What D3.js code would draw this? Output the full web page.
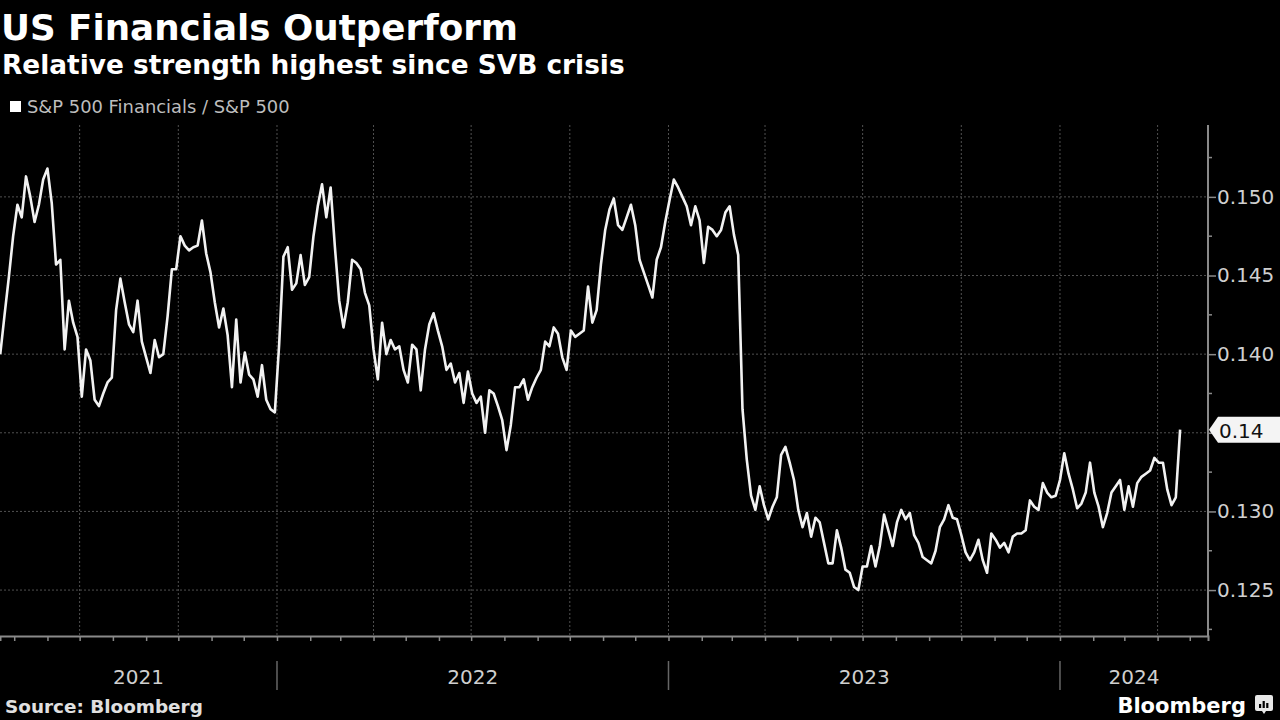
<!DOCTYPE html>
<html><head><meta charset="utf-8">
<script src="https://cdn.jsdelivr.net/npm/d3@7"></script>
<style>html,body{margin:0;padding:0;background:#000;}svg{display:block;}</style>
</head><body>
<svg id="chart" width="1280" height="720"></svg>
<script>
// ---- data ----
const title = "US Financials Outperform";
const subtitle = "Relative strength highest since SVB crisis";
const seriesName = "S&P 500 Financials / S&P 500";
const source = "Source: Bloomberg";
const startDate = "2021-04-18";
const stepDays = 4;
const values = [
0.1400,0.1425,0.1449,0.1475,0.1495,0.1487,0.1513,0.1500,0.1484,0.1495,
0.1511,0.1518,0.1496,0.1457,0.1460,0.1403,0.1434,0.1420,0.1411,0.1373,
0.1403,0.1396,0.1371,0.1367,0.1375,0.1382,0.1385,0.1428,0.1448,0.1433,
0.1419,0.1414,0.1434,0.1408,0.1398,0.1388,0.1409,0.1398,0.1400,0.1424,
0.1454,0.1454,0.1475,0.1469,0.1466,0.1468,0.1469,0.1485,0.1464,0.1452,
0.1433,0.1417,0.1429,0.1412,0.1379,0.1422,0.1382,0.1401,0.1387,0.1384,
0.1373,0.1393,0.1371,0.1365,0.1363,0.1406,0.1462,0.1468,0.1441,0.1445,
0.1463,0.1444,0.1449,0.1475,0.1494,0.1508,0.1487,0.1506,0.1468,0.1434,
0.1417,0.1433,0.1460,0.1458,0.1454,0.1439,0.1431,0.1403,0.1384,0.1420,
0.1400,0.1409,0.1403,0.1405,0.1390,0.1382,0.1406,0.1403,0.1377,0.1403,
0.1419,0.1426,0.1415,0.1405,0.1390,0.1394,0.1382,0.1388,0.1369,0.1389,
0.1375,0.1369,0.1373,0.1350,0.1377,0.1375,0.1367,0.1358,0.1339,0.1355,
0.1379,0.1379,0.1384,0.1371,0.1379,0.1385,0.1390,0.1408,0.1405,0.1417,
0.1413,0.1398,0.1390,0.1415,0.1411,0.1413,0.1415,0.1443,0.1420,0.1428,
0.1457,0.1479,0.1492,0.1499,0.1482,0.1479,0.1487,0.1495,0.1482,0.1460,
0.1452,0.1444,0.1436,0.1460,0.1468,0.1484,0.1498,0.1511,0.1506,0.1500,
0.1494,0.1482,0.1494,0.1485,0.1458,0.1481,0.1479,0.1475,0.1479,0.1490,
0.1494,0.1476,0.1463,0.1365,0.1333,0.1310,0.1301,0.1316,0.1304,0.1295,
0.1303,0.1309,0.1336,0.1341,0.1331,0.1320,0.1301,0.1290,0.1299,0.1284,
0.1296,0.1293,0.1280,0.1267,0.1267,0.1288,0.1277,0.1263,0.1261,0.1252,
0.1250,0.1265,0.1265,0.1278,0.1265,0.1278,0.1298,0.1288,0.1278,0.1293,
0.1301,0.1295,0.1299,0.1285,0.1280,0.1271,0.1269,0.1267,0.1275,0.1290,
0.1295,0.1304,0.1296,0.1295,0.1285,0.1274,0.1269,0.1274,0.1282,0.1269,
0.1261,0.1286,0.1282,0.1277,0.1280,0.1274,0.1284,0.1286,0.1286,0.1288,
0.1307,0.1303,0.1301,0.1318,0.1312,0.1309,0.1310,0.1320,0.1337,0.1324,
0.1314,0.1302,0.1305,0.1312,0.1331,0.1312,0.1303,0.1290,0.1299,0.1312,
0.1316,0.1320,0.1301,0.1316,0.1303,0.1318,0.1322,0.1324,0.1326,0.1334,
0.1331,0.1331,0.1314,0.1304,0.1309,0.1352
];
const yTicks = [0.125, 0.130, 0.135, 0.140, 0.145, 0.150];
const years = ["2021", "2022", "2023", "2024"];

// ---- layout ----
const W = 1280, H = 720;
const plotLeft = 0, plotRight = 1208, plotTop = 125, plotBottom = 636;
const svg = d3.select("#chart");
svg.append("rect").attr("width", W).attr("height", H).attr("fill", "#000");

const parse = d3.utcParse("%Y-%m-%d");
const t0 = parse(startDate);
const data = values.map((v, i) => ({date: d3.utcDay.offset(t0, i * stepDays), value: v}));

const x = d3.scaleUtc()
  .domain([new Date(Date.UTC(2021, 3, 17, 18)), new Date(Date.UTC(2024, 4, 18))])
  .range([plotLeft, plotRight]);
const y = d3.scaleLinear().domain([0.12208, 0.15457]).range([plotBottom, plotTop]);

const sans = "'DejaVu Sans', Verdana, sans-serif";

// gridlines
const grid = svg.append("g");
grid.selectAll("line.h").data(yTicks).join("line")
  .attr("x1", plotLeft).attr("x2", plotRight)
  .attr("y1", d => y(d)).attr("y2", d => y(d))
  .attr("stroke", "#505050").attr("stroke-width", 1).attr("stroke-dasharray", "2,2");
const quarters = d3.utcMonth.every(3).range(x.domain()[0], x.domain()[1]);
grid.selectAll("line.v").data(quarters).join("line")
  .attr("x1", d => x(d)).attr("x2", d => x(d))
  .attr("y1", plotTop).attr("y2", plotBottom)
  .attr("stroke", "#505050").attr("stroke-width", 1).attr("stroke-dasharray", "2,2");

// line
svg.append("defs").append("clipPath").attr("id", "clip")
  .append("rect").attr("x", plotLeft).attr("y", plotTop).attr("width", plotRight - plotLeft).attr("height", plotBottom - plotTop);
svg.append("path").datum(data)
  .attr("clip-path", "url(#clip)")
  .attr("fill", "none").attr("stroke", "#f2f2f2").attr("stroke-width", 2.6)
  .attr("stroke-linejoin", "round")
  .attr("d", d3.line().x(d => x(d.date)).y(d => y(d.value)));

// x axis
const xAxis = d3.axisBottom(x).ticks(d3.utcMonth.every(1)).tickSize(5).tickFormat("");
const gx = svg.append("g").attr("transform", `translate(0,${plotBottom})`).call(xAxis);
gx.select(".domain").attr("stroke", "#8a8a8a").attr("stroke-width", 2);
gx.selectAll(".tick line").attr("stroke", "#8a8a8a").attr("stroke-width", 1.5);

// year separators and labels
const yearStarts = years.map(yr => new Date(Date.UTC(+yr, 0, 1)));
svg.selectAll("line.ysep").data(yearStarts.slice(1)).join("line")
  .attr("x1", d => x(d)).attr("x2", d => x(d))
  .attr("y1", 661).attr("y2", 690)
  .attr("stroke", "#666").attr("stroke-width", 1.5);
svg.selectAll("text.year").data(years).join("text")
  .attr("x", (d, i) => {
    const a = Math.max(plotLeft, x(yearStarts[i]));
    const b = Math.min(plotRight, x(new Date(Date.UTC(+d + 1, 0, 1))));
    return (a + b) / 2;
  })
  .attr("y", 677).attr("dominant-baseline", "central").attr("text-anchor", "middle")
  .attr("fill", "#cfcfcf").attr("font-family", sans).attr("font-size", 20)
  .text(d => d);

// y axis (right)
const last = data[data.length - 1];
const tagY = y(last.value);
const yAxis = d3.axisRight(y).tickValues(yTicks).tickSize(8).tickFormat(d3.format(".3f"));
const gy = svg.append("g").attr("transform", `translate(${plotRight},0)`).call(yAxis);
gy.select(".domain").attr("stroke", "#8a8a8a").attr("stroke-width", 2)
  .attr("d", `M0,${plotTop}V${plotBottom}`);
gy.selectAll(".tick line").attr("stroke", "#8a8a8a").attr("stroke-width", 1.5);
gy.selectAll(".tick text").attr("x", 9).attr("fill", "#d0d0d0")
  .attr("font-family", sans).attr("font-size", 20)
  .style("display", d => Math.abs(y(d) - tagY) < 18 ? "none" : null);
const minor = d3.range(0.1225, 0.1550, 0.005);
gy.selectAll("line.minor").data(minor).join("line")
  .attr("x1", 0).attr("x2", 4).attr("y1", d => y(d)).attr("y2", d => y(d))
  .attr("stroke", "#8a8a8a").attr("stroke-width", 1.5);

// last value tag
const tag = svg.append("g").attr("transform", `translate(${plotRight},${tagY})`);
tag.append("path").attr("d", "M1,0 L10,-13 H72 V13 H10 Z").attr("fill", "#f4f4f4");
tag.append("text").attr("x", 11).attr("y", 1).attr("dominant-baseline", "central")
  .attr("fill", "#111").attr("font-family", sans).attr("font-size", 20)
  .text(d3.format(".2f")(last.value));

// titles
svg.append("text").attr("x", 1).attr("y", 40).attr("fill", "#fff")
  .attr("font-family", sans).attr("font-weight", "bold").attr("font-size", 35.7).text(title);
svg.append("text").attr("x", 2).attr("y", 74).attr("fill", "#fff")
  .attr("font-family", sans).attr("font-weight", "bold").attr("font-size", 26.4).text(subtitle);

// legend
svg.append("rect").attr("x", 10).attr("y", 101).attr("width", 11).attr("height", 11).attr("fill", "#fff");
svg.append("text").attr("x", 27).attr("y", 113).attr("fill", "#bdbdbd")
  .attr("font-family", sans).attr("font-size", 17.9).text(seriesName);

// footer
svg.append("text").attr("x", 5).attr("y", 713).attr("fill", "#e0e0e0")
  .attr("font-family", sans).attr("font-weight", "bold").attr("font-size", 18.4).text(source);
svg.append("text").attr("x", 1246).attr("y", 713).attr("text-anchor", "end").attr("fill", "#fff")
  .attr("font-family", sans).attr("font-weight", "bold").attr("font-size", 21).text("Bloomberg");
const logo = svg.append("g").attr("transform", "translate(1255,695)");
logo.append("path").attr("d", "M2,0 H16 Q18,0 18,2 V14 Q18,16 16,16 H11 L9,19 L7,16 H2 Q0,16 0,14 V2 Q0,0 2,0 Z").attr("fill", "#e8e8e8");
logo.selectAll("rect.bar").data([4, 7, 5]).join("rect")
  .attr("x", (d, i) => 4 + i * 3.6).attr("y", d => 13 - d).attr("width", 2.2).attr("height", d => d).attr("fill", "#000");
</script>
</body></html>
